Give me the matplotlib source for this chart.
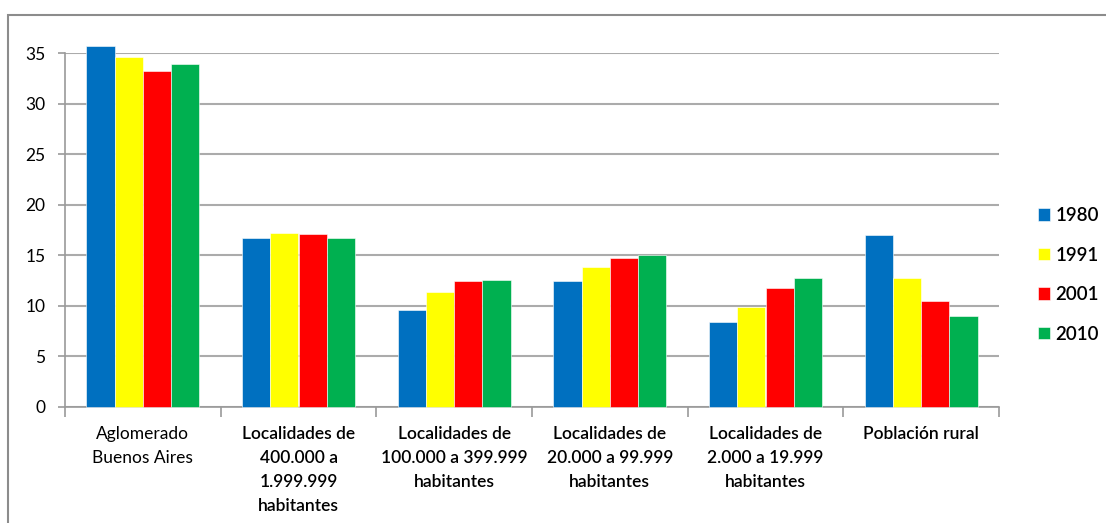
import matplotlib.pyplot as plt
import numpy as np
from matplotlib.patches import Rectangle

plt.rcParams['font.family'] = ['Lato', 'DejaVu Sans']

categories = ['Aglomerado\nBuenos Aires',
              'Localidades de\n400.000 a\n1.999.999\nhabitantes',
              'Localidades de\n100.000 a 399.999\nhabitantes',
              'Localidades de\n20.000 a 99.999\nhabitantes',
              'Localidades de\n2.000 a 19.999\nhabitantes',
              'Población rural']
years = ['1980', '1991', '2001', '2010']
v1980 = [35.7, 16.7, 9.6, 12.4, 8.4, 17.0]
v1991 = [34.6, 17.2, 11.4, 13.8, 9.9, 12.7]
v2001 = [33.2, 17.1, 12.4, 14.7, 11.8, 10.5]
v2010 = [33.9, 16.7, 12.5, 15.0, 12.7, 8.95]
series = [v1980, v1991, v2001, v2010]
colors = ['#0070C0', '#FFFF00', '#FF0000', '#00B050']

fig = plt.figure(figsize=(11.06, 5.23), dpi=100)
ax = fig.add_axes([65 / 1106, 1 - 406.7 / 523, (999 - 65) / 1106, (406.7 - 53.2) / 523])

x = np.arange(len(categories))
w = 0.182
for i, (vals, c) in enumerate(zip(series, colors)):
    ax.bar(x + (i - 1.5) * w, vals, width=w, color=c, edgecolor='white',
           linewidth=0.4, label=years[i], zorder=3, clip_on=False)

ax.set_xlim(-0.5, len(categories) - 0.5)
ax.set_ylim(0, 35)
ax.set_yticks(range(0, 36, 5))
ax.yaxis.grid(True, color='#ABABAB', linewidth=1.5, zorder=0)
ax.set_axisbelow(True)

ax.set_xticks(x)
ax.set_xticklabels(categories, fontsize=12.5, linespacing=1.6)
ax.set_xticks(np.arange(-0.5, len(categories), 1), minor=True)
ax.tick_params(axis='x', which='major', length=0, pad=14)
ax.tick_params(axis='x', which='minor', length=7, color='#9A9A9A', width=1.2)
ax.tick_params(axis='y', length=5, color='#9A9A9A', width=1.2, labelsize=12.5, pad=9)
for lbl in ax.get_xticklabels()[1:]:
    lbl.set_fontweight('semibold')

for s in ['top', 'right']:
    ax.spines[s].set_visible(False)
for s in ['left', 'bottom']:
    ax.spines[s].set_color('#9A9A9A')
    ax.spines[s].set_linewidth(1.2)

leg = ax.legend(loc='center left', bbox_to_anchor=(1.024, 0.373), frameon=False,
                prop={'size': 13.5, 'weight': 'semibold'},
                handlelength=0.65, handleheight=0.65,
                handletextpad=0.25, labelspacing=1.2)

# outer chart frame
fig.patches.append(Rectangle((8 / 1106, -0.1), 1.2, (1 - 15 / 523) + 0.1,
                             transform=fig.transFigure, fill=False,
                             edgecolor='#8C8C8C', linewidth=1.5))

fig.savefig('out.png', dpi=100)
